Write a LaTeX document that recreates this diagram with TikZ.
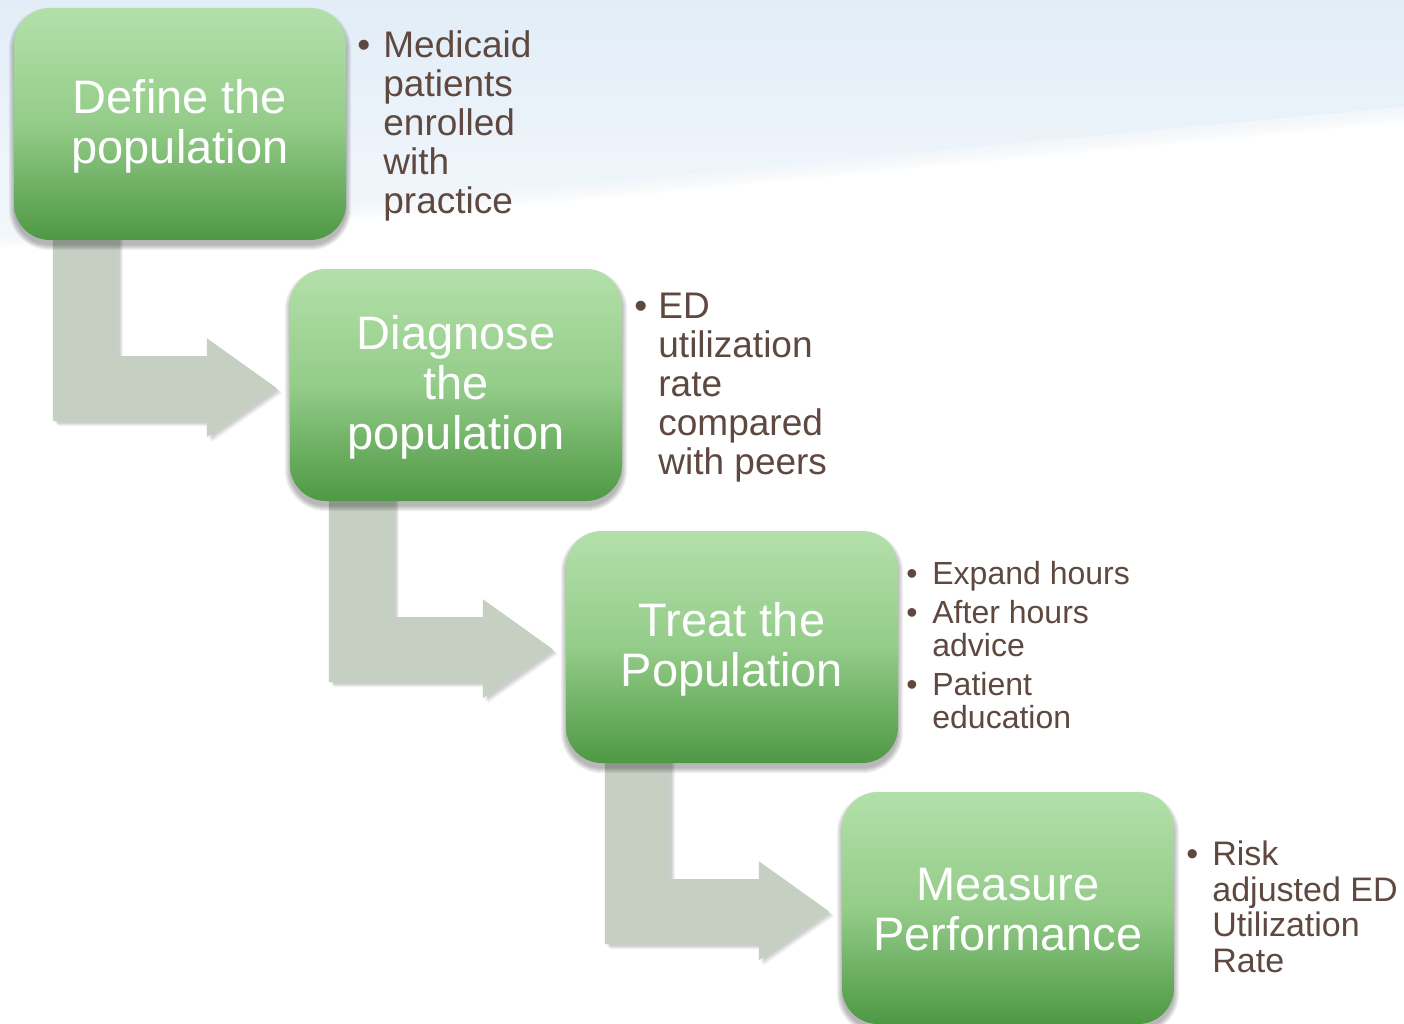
\documentclass[tikz,border=0pt]{standalone}
\usepackage{fontspec}
\setmainfont{Liberation Sans}
\usetikzlibrary{calc}

\definecolor{boxtop}{RGB}{179,224,170}
\definecolor{boxmid}{RGB}{148,204,137}
\definecolor{boxbot}{RGB}{78,152,68}
\definecolor{arrowfill}{RGB}{197,208,195}
\definecolor{notebrown}{RGB}{94,72,64}
\definecolor{skytop}{RGB}{226,237,247}
\definecolor{skylow}{RGB}{242,247,251}

\pgfdeclarelayer{sky}
\pgfdeclarelayer{arrows}
\pgfdeclarelayer{boxshadow}
\pgfsetlayers{sky,arrows,boxshadow,main}

\tikzset{
  stepbox/.style={rounded corners=36pt, minimum width=332pt, minimum height=232pt,
    inner sep=0pt, top color=boxtop, bottom color=boxbot, middle color=boxmid,
    text=white, align=center, font=\fontsize{47}{50}\selectfont},
  steptext/.style={text=white, align=center, font=\fontsize{47}{50}\selectfont, inner sep=0pt},
  note/.style={anchor=west, inner sep=0pt, text=notebrown},
  bentarrow/.style={fill=arrowfill},
  softshade/.style={fill=black, opacity=0.05}
}

\newcommand{\bentpath}{(39,-20) -- (104,-20) -- (104,116) -- (193,116) -- (193,98)
  -- (263,148) -- (193,197) -- (193,181) -- (39,181) -- cycle}

\begin{document}
\begin{tikzpicture}[x=1pt,y=-1pt]
\useasboundingbox (0,0) rectangle (1404,1024);

% sky backdrop
\begin{pgfonlayer}{sky}
  \fill[white] (0,0) rectangle (1404,1024);
  \shade[top color=skytop, bottom color=skylow] (0,0) -- (1404,0) -- (1404,107) -- (600,183) -- (0,233) -- cycle;
  \foreach \d in {3,6,...,15}
    \fill[skylow, opacity=0.3] (0,233) -- (600,183) -- (1404,107) -- (1404,{107+\d}) -- (600,{183+\d}) -- (0,{233+\d}) -- cycle;
\end{pgfonlayer}

% steps
\node[stepbox] (b1) at (180,124) {};
\node[stepbox] (b2) at (456,385) {};
\node[stepbox] (b3) at (732,647) {};
\node[stepbox] (b4) at (1008,908) {};
\node[steptext] at ($(b1.center)+(0,2)$) {Define the\\population};
\node[steptext] at ($(b2.center)+(0,2)$) {Diagnose\\the\\population};
\node[steptext] at ($(b3.center)+(0,2)$) {Treat the\\Population};
\node[steptext] at ($(b4.center)+(0,2)$) {Measure\\Performance};

% soft shadows under the steps
\begin{pgfonlayer}{boxshadow}
  \foreach \b in {b1,b2,b3,b4}
    \foreach \e in {0,1,...,5}
      \fill[softshade, rounded corners={36pt+\e pt}]
        ($(\b.north west)+(-\e,5-\e)$) rectangle ($(\b.south east)+(\e,5+\e)$);
\end{pgfonlayer}

% bent arrows from one step to the next
\begin{pgfonlayer}{arrows}
  \foreach \a in {b1,b2,b3} {
    \foreach \s in {2,3,4,5}
      \path[fill=black, opacity=0.05, shift={(\a.south west)}, xshift=\s pt, yshift=-\s pt] \bentpath;
    \path[bentarrow, shift={(\a.south west)}] \bentpath;
  }
\end{pgfonlayer}

% notes
\node[note, font=\fontsize{37}{39}\selectfont] (n1) at ($(b1.east)+(11,4)$)
  {\begin{tabular}{@{}p{26pt}@{}l@{}}
   \textbullet & Medicaid\\ & patients\\ & enrolled\\ & with\\ & practice
   \end{tabular}};
\node[note, font=\fontsize{37}{39}\selectfont] (n2) at ($(b2.east)+(12,4)$)
  {\begin{tabular}{@{}p{24pt}@{}l@{}}
   \textbullet & ED\\ & utilization\\ & rate\\ & compared\\ & with peers
   \end{tabular}};
\node[note, font=\fontsize{32}{33}\selectfont] (n3) at ($(b3.east)+(8,3)$)
  {\begin{tabular}{@{}p{26pt}@{}l@{}}
   \textbullet & Expand hours\\[6pt]
   \textbullet & After hours\\ & advice\\[6pt]
   \textbullet & Patient\\ & education
   \end{tabular}};
\node[note, font=\fontsize{34}{35.5}\selectfont] (n4) at ($(b4.east)+(12,4)$)
  {\begin{tabular}{@{}p{26pt}@{}l@{}}
   \textbullet & Risk\\ & adjusted ED\\ & Utilization\\ & Rate
   \end{tabular}};
\end{tikzpicture}
\end{document}
